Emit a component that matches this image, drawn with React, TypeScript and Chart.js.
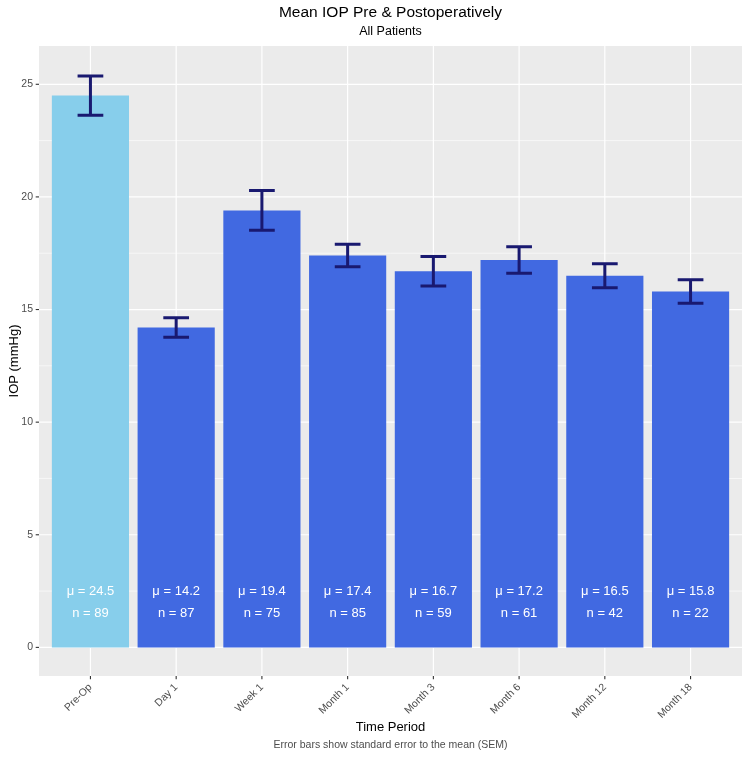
import React, { useEffect, useRef } from "react";
import { Chart, registerables } from "chart.js";

Chart.register(...registerables);

const categories = ["Pre-Op", "Day 1", "Week 1", "Month 1", "Month 3", "Month 6", "Month 12", "Month 18"];
const means = [24.5, 14.2, 19.4, 17.4, 16.7, 17.2, 16.5, 15.8];
const sems = [0.87, 0.43, 0.88, 0.5, 0.65, 0.59, 0.53, 0.52];
const counts = [89, 87, 75, 85, 59, 61, 42, 22];
const yTicks = [0, 5, 10, 15, 20, 25];
const yMinor = [2.5, 7.5, 12.5, 17.5, 22.5];
const barColors = ["#87CEEB", "#4169E1", "#4169E1", "#4169E1", "#4169E1", "#4169E1", "#4169E1", "#4169E1"];

const FONT = "'Liberation Sans', Arial, Helvetica, sans-serif";

const ggPlugin = {
  id: "ggDecor",
  beforeDraw(chart: any) {
    const { ctx, chartArea } = chart;
    ctx.save();
    ctx.fillStyle = "#FFFFFF";
    ctx.fillRect(0, 0, chart.width, chart.height);
    ctx.fillStyle = "#EBEBEB";
    ctx.fillRect(chartArea.left, chartArea.top, chartArea.right - chartArea.left, chartArea.bottom - chartArea.top);
    ctx.restore();
  },
  beforeDatasetsDraw(chart: any) {
    const { ctx, chartArea, scales } = chart;
    const x = scales.x;
    const y = scales.y;
    ctx.save();
    ctx.strokeStyle = "#FFFFFF";
    ctx.lineWidth = 0.6;
    yMinor.forEach((v) => {
      const py = y.getPixelForValue(v);
      ctx.beginPath();
      ctx.moveTo(chartArea.left, py);
      ctx.lineTo(chartArea.right, py);
      ctx.stroke();
    });
    ctx.lineWidth = 1.2;
    yTicks.forEach((v) => {
      const py = y.getPixelForValue(v);
      ctx.beginPath();
      ctx.moveTo(chartArea.left, py);
      ctx.lineTo(chartArea.right, py);
      ctx.stroke();
    });
    categories.forEach((_, i) => {
      const px = x.getPixelForValue(i + 1);
      ctx.beginPath();
      ctx.moveTo(px, chartArea.top);
      ctx.lineTo(px, chartArea.bottom);
      ctx.stroke();
    });
    // tick marks
    ctx.strokeStyle = "#333333";
    ctx.lineWidth = 1.1;
    yTicks.forEach((v) => {
      const py = y.getPixelForValue(v);
      ctx.beginPath();
      ctx.moveTo(chartArea.left - 3.3, py);
      ctx.lineTo(chartArea.left, py);
      ctx.stroke();
    });
    categories.forEach((_, i) => {
      const px = x.getPixelForValue(i + 1);
      ctx.beginPath();
      ctx.moveTo(px, chartArea.bottom);
      ctx.lineTo(px, chartArea.bottom + 3.3);
      ctx.stroke();
    });
    // rotated x tick labels
    ctx.fillStyle = "#4D4D4D";
    ctx.font = `10.5px ${FONT}`;
    ctx.textAlign = "right";
    ctx.textBaseline = "middle";
    categories.forEach((c, i) => {
      const px = x.getPixelForValue(i + 1);
      ctx.save();
      ctx.translate(px, chartArea.bottom + 9.5);
      ctx.rotate(-Math.PI / 4);
      ctx.fillText(c, 0, 0);
      ctx.restore();
    });
    ctx.restore();
  },
  afterDatasetsDraw(chart: any) {
    const { ctx, chartArea, scales } = chart;
    const x = scales.x;
    const y = scales.y;
    ctx.save();
    // error bars
    ctx.strokeStyle = "#191970";
    ctx.lineWidth = 3;
    ctx.lineCap = "butt";
    means.forEach((m, i) => {
      const cx = x.getPixelForValue(i + 1);
      const half = (x.getPixelForValue(i + 1.15) - x.getPixelForValue(i + 0.85)) / 2;
      const top = y.getPixelForValue(m + sems[i]);
      const bot = y.getPixelForValue(m - sems[i]);
      ctx.beginPath();
      ctx.moveTo(cx - half, top);
      ctx.lineTo(cx + half, top);
      ctx.moveTo(cx, top);
      ctx.lineTo(cx, bot);
      ctx.moveTo(cx - half, bot);
      ctx.lineTo(cx + half, bot);
      ctx.stroke();
    });
    // labels
    ctx.fillStyle = "#FFFFFF";
    ctx.font = `13px ${FONT}`;
    ctx.textAlign = "center";
    ctx.textBaseline = "middle";
    means.forEach((m, i) => {
      const cx = x.getPixelForValue(i + 1);
      ctx.fillText(`μ = ${m.toFixed(1)}`, cx, y.getPixelForValue(2.5));
      ctx.fillText(`n = ${counts[i]}`, cx, y.getPixelForValue(1.5));
    });
    // titles
    const midX = (chartArea.left + chartArea.right) / 2;
    ctx.fillStyle = "#000000";
    ctx.font = `15.5px ${FONT}`;
    ctx.fillText("Mean IOP Pre & Postoperatively", midX, 13);
    ctx.font = `12.5px ${FONT}`;
    ctx.fillText("All Patients", midX, 32);
    ctx.font = `13px ${FONT}`;
    ctx.fillText("Time Period", midX, 727);
    ctx.fillStyle = "#4D4D4D";
    ctx.font = `10.5px ${FONT}`;
    ctx.fillText("Error bars show standard error to the mean (SEM)", midX, 745);
    ctx.fillStyle = "#000000";
    ctx.font = `13px ${FONT}`;
    ctx.translate(14, (chartArea.top + chartArea.bottom) / 2);
    ctx.rotate(-Math.PI / 2);
    ctx.fillText("IOP (mmHg)", 0, 0);
    ctx.restore();
  },
};

export default function App() {
  const ref = useRef<HTMLCanvasElement | null>(null);
  useEffect(() => {
    if (!ref.current) return;
    const chart = new Chart(ref.current, {
      type: "bar",
      data: {
        datasets: [
          {
            data: means.map((m, i) => ({ x: i + 1, y: m })),
            backgroundColor: barColors,
            borderWidth: 0,
            categoryPercentage: 0.9,
            barPercentage: 1,
          },
        ],
      },
      options: {
        animation: false,
        responsive: false,
        maintainAspectRatio: false,
        layout: { padding: { left: 0, right: 8, top: 46, bottom: 0 } },
        plugins: {
          legend: { display: false },
          tooltip: { enabled: false },
          title: { display: false },
        },
        scales: {
          x: {
            type: "linear",
            offset: false,
            min: 0.4,
            max: 8.6,
            grid: { display: false, drawTicks: false, tickLength: 0, offset: false },
            border: { display: false },
            afterBuildTicks: (scale: any) => {
              scale.ticks = categories.map((_, i) => ({ value: i + 1 }));
            },
            afterFit: (scale: any) => {
              scale.height = 81;
            },
            ticks: {
              display: false,
              autoSkip: false,
              callback: (v: any) => categories[Math.round(Number(v)) - 1] ?? "",
            },
          },
          y: {
            type: "linear",
            min: -1.27,
            max: 26.7,
            grid: { display: false, drawTicks: false, tickLength: 0 },
            border: { display: false },
            afterBuildTicks: (scale: any) => {
              scale.ticks = yTicks.map((v) => ({ value: v }));
            },
            afterFit: (scale: any) => {
              scale.width = 39;
            },
            ticks: {
              padding: 6,
              color: "#4D4D4D",
              font: { family: FONT, size: 10.5 },
              callback: (v: any) => String(v),
            },
          },
        },
      },
      plugins: [ggPlugin],
    } as any);
    return () => chart.destroy();
  }, []);
  return (
    <div style={{ position: "fixed", left: 0, top: 0, width: 750, height: 757 }}>
      <canvas ref={ref} width={750} height={757} style={{ width: 750, height: 757 }} />
    </div>
  );
}
